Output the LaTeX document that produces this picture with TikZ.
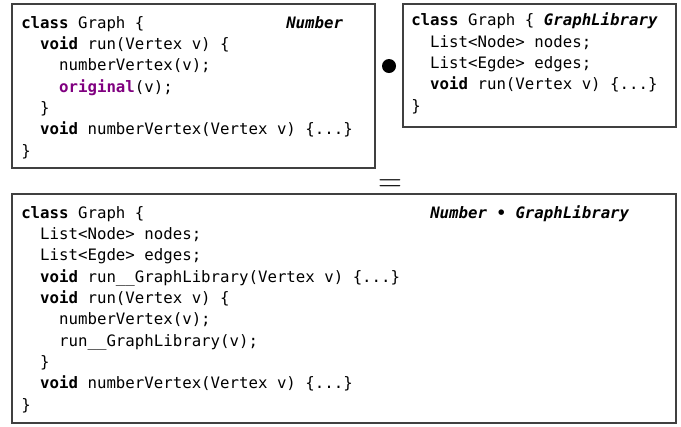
\documentclass[tikz,border=0pt]{standalone}
\usepackage{fontspec}
\setmonofont{DejaVu Sans Mono}
\usepackage{xcolor}
\usetikzlibrary{positioning, fit}
\definecolor{origPurple}{HTML}{800080}
\definecolor{frameGray}{HTML}{404040}
\newcommand{\kw}[1]{\textbf{#1}}
\newcommand{\feat}[1]{\textbf{\textit{#1}}}
\newcommand{\ind}{\phantom{xx}}

\begin{document}
\begin{tikzpicture}[
    x=0.75pt, y=-0.75pt,
    font=\fontsize{11.8}{16}\selectfont\ttfamily,
    frame/.style={rectangle, draw=frameGray, line width=0.9pt, inner sep=0pt},
    code/.style={align=left, inner sep=0pt, anchor=base west},
    featname/.style={inner sep=0pt, anchor=base west}
]
\useasboundingbox (0,0) rectangle (681,426);

% the two features (code nodes sit on their last baseline)
\node[frame, fit={(12,4) (375,168)}] (numberbox) {};
\node[frame, fit={(403,4) (676,127)}] (libbox) {};

\node[code] (numbercode) at (21,156) {\kw{class} Graph \{\\
  \ind\kw{void} run(Vertex v) \{\\
  \ind\ind numberVertex(v);\\
  \ind\ind\textcolor{origPurple}{\kw{original}}(v);\\
  \ind\}\\
  \ind\kw{void} numberVertex(Vertex v) \{...\}\\
  \}};
\node[featname] (numbername) at (286,28) {\feat{Number}};

\node[code] (libcode) at (411,111) {\kw{class} Graph \{ \feat{GraphLibrary}\\
  \ind List<Node> nodes;\\
  \ind List<Egde> edges;\\
  \ind\kw{void} run(Vertex v) \{...\}\\
  \}};

% composition
\node[circle, fill=black, inner sep=0pt, minimum size=10.5pt] (compose) at (389,66) {};
\node[inner sep=0pt, font=\fontsize{28}{28}\selectfont] (equals) at (390,185.5) {$=$};

% the result
\node[frame, fit={(12,194) (676,423)}] (resultbox) {};

\node[code] (resultcode) at (21,410) {\kw{class} Graph \{\\
  \ind List<Node> nodes;\\
  \ind List<Egde> edges;\\
  \ind\kw{void} run\_\_GraphLibrary(Vertex v) \{...\}\\
  \ind\kw{void} run(Vertex v) \{\\
  \ind\ind numberVertex(v);\\
  \ind\ind run\_\_GraphLibrary(v);\\
  \ind\}\\
  \ind\kw{void} numberVertex(Vertex v) \{...\}\\
  \}};
\node[featname] (resultname) at (430,218) {\feat{Number • GraphLibrary}};

\end{tikzpicture}
\end{document}
